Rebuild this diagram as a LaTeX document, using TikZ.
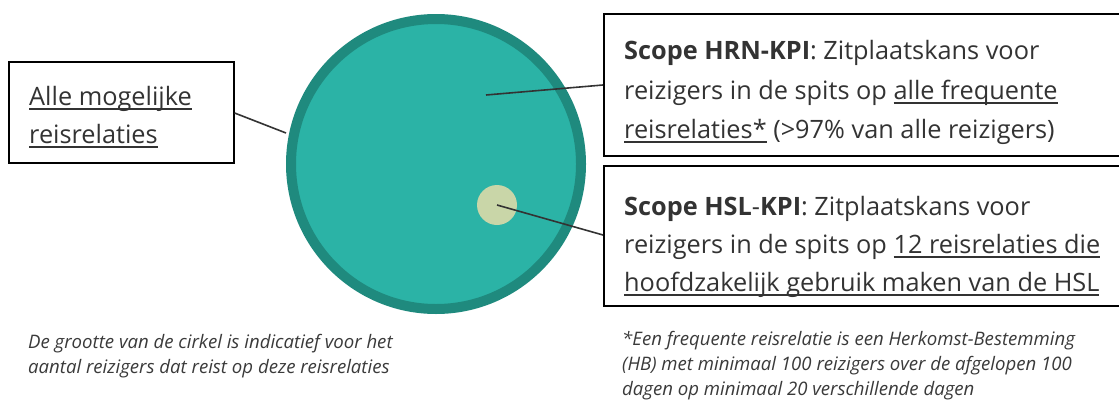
\documentclass[tikz,border=0pt]{standalone}
\usepackage{fontspec}
\setmainfont{Open Sans}
\definecolor{txt}{HTML}{333333}
\definecolor{foot}{HTML}{3A3A3A}
\definecolor{teal}{HTML}{2BB3A6}
\definecolor{tealdark}{HTML}{1F8A7E}
\definecolor{pale}{HTML}{C9D6A8}
\newcommand\ulx[1]{\setbox0\hbox{#1}\rlap{\rule[-4.5pt]{\wd0}{1.3pt}}\box0\relax}
\tikzset{
  txtline/.style={anchor=base west, inner sep=0pt, text=txt, font=\fontsize{25.3}{30}\selectfont},
  footline/.style={anchor=base west, inner sep=0pt, text=foot, font=\fontsize{18.6}{22}\selectfont\itshape},
  framebox/.style={draw=black, line width=1.6pt, fill=none},
  leader/.style={draw=txt, line width=1.6pt},
}
\begin{document}
\begin{tikzpicture}[x=1pt,y=-1pt]
\clip (0,0) rectangle (1119,399);
\fill[white] (0,0) rectangle (1119,399);
% circles
\node[circle, fill=teal, draw=tealdark, line width=10pt, minimum size=290pt, inner sep=0pt] (big) at (436,164) {};
\node[circle, fill=pale, minimum size=40pt, inner sep=0pt] (small) at (497,205) {};
\coordinate (hrnpt) at (486,95);
% boxes
\node[framebox, anchor=north west, minimum width=225pt, minimum height=101pt, inner sep=0pt] (allbox) at (8,61) {};
\node[framebox, anchor=north west, minimum width=540pt, minimum height=142pt, inner sep=0pt] (hrnbox) at (603,13) {};
\node[framebox, anchor=north west, minimum width=540pt, minimum height=140pt, inner sep=0pt] (hslbox) at (603,165) {};
% leaders
\draw[leader] (allbox.east |- 0,113) -- (big.west |- 0,133) coordinate (bw);
\draw[leader] (hrnpt) -- (hrnbox.west |- 0,85);
\draw[leader] (small.center) -- (hslbox.west |- 0,235);
% left box text
\node[txtline] (a1) at (29,105) {\ulx{Alle mogelijke}};
\node[txtline] (a2) at (29,143) {\ulx{reisrelaties}};
% HRN text
\node[txtline] (h1) at (624,59) {\textbf{Scope HRN-KPI}: Zitplaatskans voor};
\node[txtline] (h2) at (624,99) {reizigers in de spits op \ulx{alle frequente}};
\node[txtline] (h3) at (624,138) {\ulx{reisrelaties*} (>97\% van alle reizigers)};
% HSL text
\node[txtline] (s1) at (624,215) {\textbf{Scope HSL}-\textbf{KPI}: Zitplaatskans voor};
\node[txtline] (s2) at (624,253) {reizigers in de spits op \ulx{12 reisrelaties die}};
\node[txtline] (s3) at (624,291) {\ulx{hoofdzakelijk gebruik maken van de HSL}};
% footnotes
\node[footline] (f1) at (28,348) {De grootte van de cirkel is indicatief voor het};
\node[footline] (f2) at (28,373) {aantal reizigers dat reist op deze reisrelaties};
\node[footline] (g1) at (622,345) {*Een frequente reisrelatie is een Herkomst-Bestemming};
\node[footline] (g2) at (622,370) {(HB) met minimaal 100 reizigers over de afgelopen 100};
\node[footline] (g3) at (622,395) {dagen op minimaal 20 verschillende dagen};
\end{tikzpicture}
\end{document}
